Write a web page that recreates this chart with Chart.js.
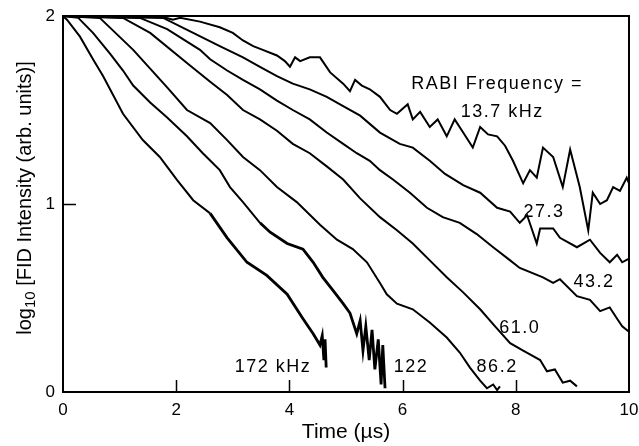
<!DOCTYPE html>
<html>
<head>
<meta charset="utf-8">
<script src="https://cdn.jsdelivr.net/npm/chart.js@4/dist/chart.umd.min.js"></script>
<style>
  html, body { margin: 0; padding: 0; background: #fff; }
  canvas { display: block; }
</style>
</head>
<body>
<canvas id="fid" width="639" height="446"></canvas>
<script>
// time (us) and log10 intensity, one pair per Rabi frequency
const t172 = [0, 0.07, 0.30, 0.53, 0.71, 1.06, 1.41, 1.71, 2.01, 2.30, 2.60, 2.90, 3.25, 3.60, 3.96, 4.24, 4.42, 4.54, 4.58, 4.61, 4.63, 4.65];
const y172 = [2.0, 1.98, 1.89, 1.77, 1.68, 1.48, 1.34, 1.25, 1.13, 1.02, 0.95, 0.82, 0.69, 0.62, 0.52, 0.39, 0.31, 0.25, 0.30, 0.17, 0.28, 0.13];

const t122 = [0, 0.27, 0.53, 0.83, 1.06, 1.24, 1.54, 1.84, 2.19, 2.47, 2.77, 2.95, 3.18, 3.48, 3.66, 3.96, 4.24, 4.42, 4.59, 4.77, 4.95, 5.07, 5.19, 5.25, 5.30, 5.35, 5.41, 5.46, 5.51, 5.57, 5.62, 5.65, 5.69];
const y122 = [2.0, 1.99, 1.91, 1.80, 1.71, 1.63, 1.54, 1.46, 1.36, 1.27, 1.18, 1.09, 1.01, 0.90, 0.85, 0.79, 0.76, 0.69, 0.61, 0.54, 0.47, 0.42, 0.31, 0.38, 0.22, 0.35, 0.17, 0.33, 0.12, 0.28, 0.04, 0.25, 0.02];

const t86 = [0, 0.65, 1.24, 1.84, 2.19, 2.60, 2.90, 3.18, 3.48, 3.78, 4.13, 4.54, 4.84, 5.12, 5.37, 5.60, 5.72, 5.90, 6.18, 6.48, 6.78, 7.01, 7.19, 7.37, 7.49, 7.60, 7.67, 7.72];
const y86 = [2.0, 1.99, 1.82, 1.62, 1.50, 1.43, 1.34, 1.25, 1.18, 1.09, 1.01, 0.89, 0.81, 0.76, 0.69, 0.58, 0.52, 0.47, 0.44, 0.37, 0.29, 0.21, 0.13, 0.06, 0.02, 0.04, 0.01, 0.03];

const t61 = [0, 1.06, 1.54, 2.19, 2.60, 2.90, 3.18, 3.48, 3.78, 4.06, 4.36, 4.66, 4.95, 5.25, 5.60, 5.90, 6.18, 6.48, 6.78, 7.07, 7.37, 7.63, 7.90, 8.13, 8.25, 8.43, 8.55, 8.69, 8.83, 8.96, 9.08];
const y61 = [2.0, 1.99, 1.91, 1.75, 1.65, 1.58, 1.50, 1.45, 1.39, 1.32, 1.27, 1.20, 1.13, 1.03, 0.93, 0.86, 0.79, 0.70, 0.61, 0.53, 0.44, 0.35, 0.26, 0.22, 0.20, 0.17, 0.11, 0.12, 0.05, 0.06, 0.03];

const t43 = [0, 1.36, 1.84, 2.42, 2.60, 2.90, 3.18, 3.48, 3.78, 4.06, 4.36, 4.66, 4.95, 5.19, 5.42, 5.60, 5.83, 6.13, 6.43, 6.71, 7.01, 7.31, 7.60, 7.90, 8.07, 8.48, 8.66, 8.78, 9.08, 9.31, 9.49, 9.66, 9.79, 9.88, 10];
const y43 = [2.0, 1.99, 1.93, 1.82, 1.77, 1.71, 1.66, 1.61, 1.55, 1.50, 1.45, 1.38, 1.32, 1.27, 1.23, 1.18, 1.13, 1.06, 0.98, 0.93, 0.90, 0.84, 0.77, 0.70, 0.66, 0.61, 0.58, 0.60, 0.51, 0.49, 0.43, 0.45, 0.39, 0.35, 0.32];

const t27 = [0, 1.77, 2.30, 2.77, 3.18, 3.48, 3.78, 4.06, 4.36, 4.66, 4.95, 5.25, 5.60, 5.95, 6.18, 6.48, 6.75, 7.07, 7.37, 7.67, 7.90, 8.07, 8.20, 8.37, 8.43, 8.66, 8.78, 9.08, 9.31, 9.49, 9.66, 9.79, 9.88, 10];
const y27 = [2.0, 1.99, 1.91, 1.84, 1.78, 1.73, 1.68, 1.64, 1.61, 1.57, 1.52, 1.47, 1.38, 1.32, 1.30, 1.23, 1.16, 1.10, 1.06, 0.98, 0.96, 0.90, 0.94, 0.79, 0.87, 0.87, 0.82, 0.77, 0.81, 0.74, 0.69, 0.73, 0.69, 0.71];

const t13 = [0, 1.71, 1.94, 2.07, 2.42, 2.77, 3.00, 3.18, 3.36, 3.53, 3.78, 3.92, 4.01, 4.10, 4.19, 4.36, 4.54, 4.72, 4.95, 5.07, 5.16, 5.28, 5.42, 5.60, 5.78, 5.90, 6.09, 6.18, 6.31, 6.48, 6.62, 6.78, 6.92, 7.07, 7.24, 7.37, 7.51, 7.67, 7.81, 7.95, 8.13, 8.25, 8.37, 8.48, 8.66, 8.83, 8.96, 9.13, 9.28, 9.36, 9.49, 9.61, 9.72, 9.84, 9.96, 10];
const y13 = [2.0, 2.0, 1.98, 1.99, 1.97, 1.94, 1.91, 1.87, 1.84, 1.82, 1.79, 1.76, 1.73, 1.78, 1.76, 1.78, 1.78, 1.70, 1.64, 1.60, 1.66, 1.63, 1.61, 1.57, 1.50, 1.48, 1.53, 1.45, 1.49, 1.41, 1.45, 1.36, 1.45, 1.38, 1.30, 1.41, 1.37, 1.36, 1.31, 1.23, 1.11, 1.18, 1.14, 1.30, 1.25, 1.09, 1.29, 1.09, 0.86, 1.06, 1.00, 1.02, 1.09, 1.07, 1.14, 1.11];

// curve labels and where they sit (data units)
const labelTexts = ["RABI Frequency =", "13.7 kHz", "27.3", "43.2", "61.0", "86.2", "122", "172 kHz"];
const labelX = [7.67, 7.76, 8.50, 9.38, 8.07, 7.67, 6.15, 3.71];
const labelY = [1.64, 1.49, 0.957, 0.585, 0.34, 0.133, 0.133, 0.133];

const xTicks = [2, 4, 6, 8];
const yTicks = [1];

const FONT = '"Liberation Sans", Arial, Helvetica, sans-serif';

function pts(t, v) {
    return t.map((x, i) => ({ x: x, y: v[i] }));
}

// noisy tails of the fast curves print heavier
function heavyAfter(x0) {
    return {
        borderWidth: (ctx) => (ctx.p0.parsed.x >= x0 ? 2.8 : 2),
    };
}

function line(data, segment) {
    return {
        data: data,
        borderColor: "#000",
        borderWidth: 2,
        pointRadius: 0,
        tension: 0,
        fill: false,
        segment: segment,
    };
}

const frame = {
    id: "frame",
    afterDatasetsDraw(chart) {
        const { ctx, chartArea: a, scales } = chart;
        const x = scales.x;
        const y = scales.y;
        ctx.save();
        ctx.strokeStyle = "#000";
        ctx.lineWidth = 2;
        ctx.strokeRect(a.left, a.top, a.right - a.left, a.bottom - a.top);

        // inward tick marks
        ctx.lineWidth = 1.5;
        xTicks.forEach((v) => {
            const px = Math.round(x.getPixelForValue(v)) + 0.5;
            ctx.beginPath();
            ctx.moveTo(px, a.bottom);
            ctx.lineTo(px, a.bottom - 12);
            ctx.stroke();
        });
        yTicks.forEach((v) => {
            const py = Math.round(y.getPixelForValue(v)) + 0.5;
            ctx.beginPath();
            ctx.moveTo(a.left, py);
            ctx.lineTo(a.left + 13, py);
            ctx.stroke();
        });

        // curve labels
        ctx.fillStyle = "#000";
        ctx.font = "18px " + FONT;
        ctx.textAlign = "center";
        ctx.textBaseline = "middle";
        if ("letterSpacing" in ctx) ctx.letterSpacing = "1.5px";
        labelTexts.forEach((s, i) => {
            ctx.fillText(s, x.getPixelForValue(labelX[i]), y.getPixelForValue(labelY[i]));
        });
        ctx.restore();

        // y axis title with subscript
        ctx.save();
        ctx.translate(25, (a.top + a.bottom) / 2 - 6);
        ctx.rotate(-Math.PI / 2);
        ctx.fillStyle = "#000";
        ctx.textBaseline = "middle";
        ctx.textAlign = "left";
        const big = "20px " + FONT;
        const small = "15px " + FONT;
        const parts = [
            ["log", big, 0],
            ["10", small, 6],
            [" [FID Intensity (arb. units)]", big, 0],
        ];
        let w = 0;
        parts.forEach((p) => { ctx.font = p[1]; w += ctx.measureText(p[0]).width; });
        let cx = -w / 2;
        parts.forEach((p) => {
            ctx.font = p[1];
            ctx.fillText(p[0], cx, p[2]);
            cx += ctx.measureText(p[0]).width;
        });
        ctx.restore();
    },
};

new Chart(document.getElementById("fid"), {
    type: "line",
    data: {
        datasets: [
            line(pts(t172, y172), heavyAfter(2.5)),
            line(pts(t122, y122), heavyAfter(3.3)),
            line(pts(t86, y86)),
            line(pts(t61, y61)),
            line(pts(t43, y43)),
            line(pts(t27, y27)),
            line(pts(t13, y13)),
        ],
    },
    options: {
        responsive: false,
        animation: false,
        devicePixelRatio: 1,
        layout: { padding: { top: 16, right: 0, left: 0, bottom: 0 } },
        plugins: {
            legend: { display: false },
            tooltip: { enabled: false },
        },
        scales: {
            x: {
                type: "linear",
                min: 0,
                max: 10,
                grid: { display: false },
                border: { display: false },
                ticks: {
                    stepSize: 2,
                    color: "#000",
                    padding: 0,
                    maxRotation: 0,
                    font: { family: FONT, size: 17 },
                },
                title: {
                    display: true,
                    text: "Time (\u00b5s)",
                    color: "#000",
                    font: { family: FONT, size: 21 },
                    padding: { top: 0, bottom: 1 },
                },
                afterFit: (s) => {
                    s.height = 54;
                    s.paddingRight = 10;
                },
            },
            y: {
                min: 0,
                max: 2,
                grid: { display: false },
                border: { display: false },
                ticks: {
                    stepSize: 1,
                    color: "#000",
                    padding: 0,
                    font: { family: FONT, size: 17 },
                },
                afterFit: (s) => { s.width = 63; },
            },
        },
    },
    plugins: [frame],
});
</script>
</body>
</html>
